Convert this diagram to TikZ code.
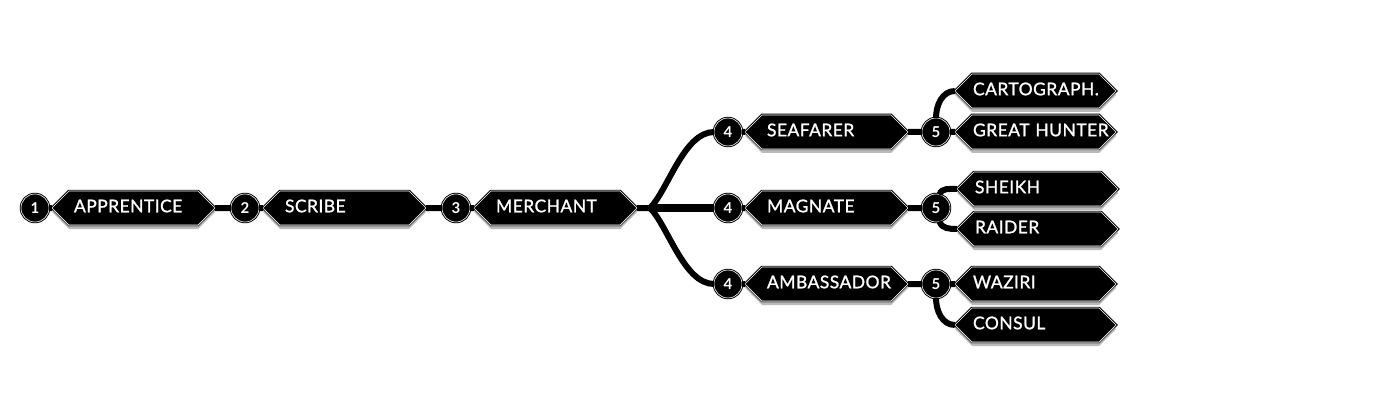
\documentclass[tikz,border=0pt]{standalone}
\usepackage{fontspec}
\setmainfont{Lato}
\newfontfamily\bannerfont{Lato}[LetterSpace=2.5, FakeBold=1.2]
\usetikzlibrary{positioning,shapes.symbols,shadows}
\tikzset{
  rank/.style={circle, fill=black, draw=white, line width=0.6pt, outer sep=0pt,
    preaction={draw=black, line width=2.5pt},
    minimum size=28pt, inner sep=0pt, text=white,
    font=\fontsize{15}{15}\selectfont\bfseries},
  title/.style={shape=signal, signal to=west and east, signal pointer angle=90,
    fill=black, draw=white, line width=0.6pt, outer sep=0pt,
    preaction={draw=black, line width=2.5pt},
    drop shadow={shadow xshift=0pt, shadow yshift=-4pt, fill=black!45, opacity=0.6},
    text=white, font=\bannerfont\fontsize{17.5}{17.5}\selectfont,
    text width=119pt, align=left, text height=12.5pt, text depth=4pt,
    inner xsep=5pt, inner ysep=8.75pt},
  leaf/.style={title, text width=125pt, inner xsep=1pt},
  link/.style={draw=black, line width=3.6pt,
    preaction={draw=white, line width=4.6pt},
    preaction={draw=black, line width=6pt}},
  trunk/.style={link, line width=6pt,
    preaction={draw=white, line width=7pt},
    preaction={draw=black, line width=8.4pt}}
}
\begin{document}
\begin{tikzpicture}[x=1pt, y=-1pt, node distance=4pt and 4pt]
  \useasboundingbox (0,0) rectangle (1392,417);

  % main chain
  \node[rank] (r1) at (35,208) {1};
  \node[title, right=3pt of r1] (apprentice) {APPRENTICE};
  \node[rank, right=16pt of apprentice] (r2) {2};
  \node[title, right=of r2] (scribe) {SCRIBE};
  \node[rank, right=16pt of scribe] (r3) {3};
  \node[title, right=of r3] (merchant) {MERCHANT};
  \coordinate[right=13pt of merchant] (split);

  % fourth rank
  \node[rank] (r4a) at (728,132) {4};
  \node[rank] (r4b) at (728,208) {4};
  \node[rank] (r4c) at (728,284) {4};
  \node[title, right=3pt of r4a] (seafarer) {SEAFARER};
  \node[title, right=3pt of r4b] (magnate) {MAGNATE};
  \node[title, right=3pt of r4c] (ambassador) {AMBASSADOR};

  % fifth rank
  \node[rank, right=14pt of seafarer] (r5a) {5};
  \node[rank, right=14pt of magnate] (r5b) {5};
  \node[rank, right=14pt of ambassador] (r5c) {5};
  \node[leaf, right=5pt of r5a] (hunter) {GREAT~HUNTER};
  \node[leaf, above=7pt of hunter] (cartograph) {CARTOGRAPH.};
  \node[leaf] (sheikh) at (1037.5,189) {SHEIKH};
  \node[leaf] (raider) at (1037.5,229) {RAIDER};
  \node[leaf, right=5pt of r5c] (waziri) {WAZIRI};
  \node[leaf, below=7pt of waziri] (consul) {CONSUL};

  % links
  \draw[link] (r1) -- (apprentice);
  \draw[link] (apprentice) -- (r2);
  \draw[link] (r2) -- (scribe);
  \draw[link] (scribe) -- (r3);
  \draw[link] (r3) -- (merchant);
  \draw[link] (merchant) -- (split);
  \draw[link] (split) .. controls +(18,-18) and +(-30,0) .. (r4a.west);
  \draw[link] (split) .. controls +(18,18) and +(-30,0) .. (r4c.west);
  \draw[trunk] (split) -- (r4b);

  \draw[link] (r4a) -- (seafarer);
  \draw[link] (r4b) -- (magnate);
  \draw[link] (r4c) -- (ambassador);
  \draw[link] (seafarer) -- (r5a);
  \draw[link] (magnate) -- (r5b);
  \draw[link] (ambassador) -- (r5c);

  \draw[link] (r5a) -- (hunter);
  \draw[link] (r5a.north) to[out=90, in=180] (cartograph.west);
  \draw[link] (r5b) to[out=75, in=180] (sheikh.west);
  \draw[link] (r5b) to[out=-75, in=180] (raider.west);
  \draw[link] (r5c) -- (waziri);
  \draw[link] (r5c.south) to[out=-90, in=180] (consul.west);
\end{tikzpicture}
\end{document}
